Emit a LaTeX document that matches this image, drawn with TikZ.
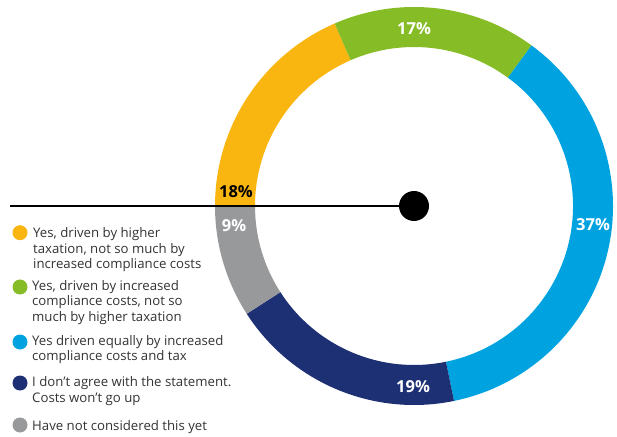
\documentclass[tikz,border=0pt]{standalone}
\usepackage{fontspec}
\setmainfont{Open Sans}
\usetikzlibrary{calc}
\definecolor{cOrange}{RGB}{249,181,16}
\definecolor{cGreen}{RGB}{134,188,37}
\definecolor{cBlue}{RGB}{0,163,224}
\definecolor{cNavy}{RGB}{30,48,116}
\definecolor{cGray}{RGB}{151,153,155}
\definecolor{cText}{RGB}{51,51,51}
\begin{document}
\begin{tikzpicture}[x=1pt,y=1pt,
  pct/.style={font=\bfseries\fontsize{16.5}{19}\selectfont, text=white, inner sep=0pt},
  legdot/.style={circle, minimum size=15pt, inner sep=0pt},
  legtext/.style={anchor=west, align=left, inner sep=0pt, text=cText, font=\fontsize{13.2}{15.5}\selectfont}]
\useasboundingbox (0,0) rectangle (617,436);
\coordinate (c) at (414,230);
\newcommand{\ringseg}[3]{\fill[#3] ($(c)+(#1:199pt)$) arc[start angle=#1, end angle=#2, radius=199pt] -- ($(c)+(#2:159pt)$) arc[start angle=#2, end angle=#1, radius=159pt] -- cycle;}
\ringseg{180}{113.5}{cOrange}
\ringseg{113.5}{53.8}{cGreen}
\ringseg{53.8}{-78.4}{cBlue}
\ringseg{-78.4}{-147.2}{cNavy}
\ringseg{-147.2}{-180}{cGray}
% labels
\node[pct] (p17) at (414,407) {17\%};
\node[pct] (p37) at (593,211) {37\%};
\node[pct] (p19) at (413,49) {19\%};
\node[pct, text=black] (p18) at (236,244) {18\%};
\node[pct] (p9) at (234,210) {9\%};
% pointer line
\coordinate (lstart) at (10,230);
\node[circle, fill=black, minimum size=30pt, inner sep=0pt] (dot) at (c) {};
\draw[line width=2.7pt] (lstart) -- (dot.center);
% legend
\node[legdot, fill=cOrange] (d1) at (20,203.3) {};
\node[legtext] (t1) at (33,186) {Yes, driven by higher\\taxation, not so much by\\increased compliance costs};
\node[legdot, fill=cGreen] (d2) at (20,149) {};
\node[legtext] (t2) at (32,133.5) {Yes, driven by increased\\compliance costs, not so\\much by higher taxation};
\node[legdot, fill=cBlue] (d3) at (20,94) {};
\node[legtext] (t3) at (32,86.5) {Yes driven equally by increased\\compliance costs and tax};
\node[legdot, fill=cNavy] (d4) at (20,53) {};
\node[legtext] (t4) at (32,45) {I don’t agree with the statement.\\Costs won’t go up};
\node[legdot, fill=cGray] (d5) at (20,11) {};
\node[legtext] (t5) at (32,9.3) {Have not considered this yet};
\end{tikzpicture}
\end{document}
